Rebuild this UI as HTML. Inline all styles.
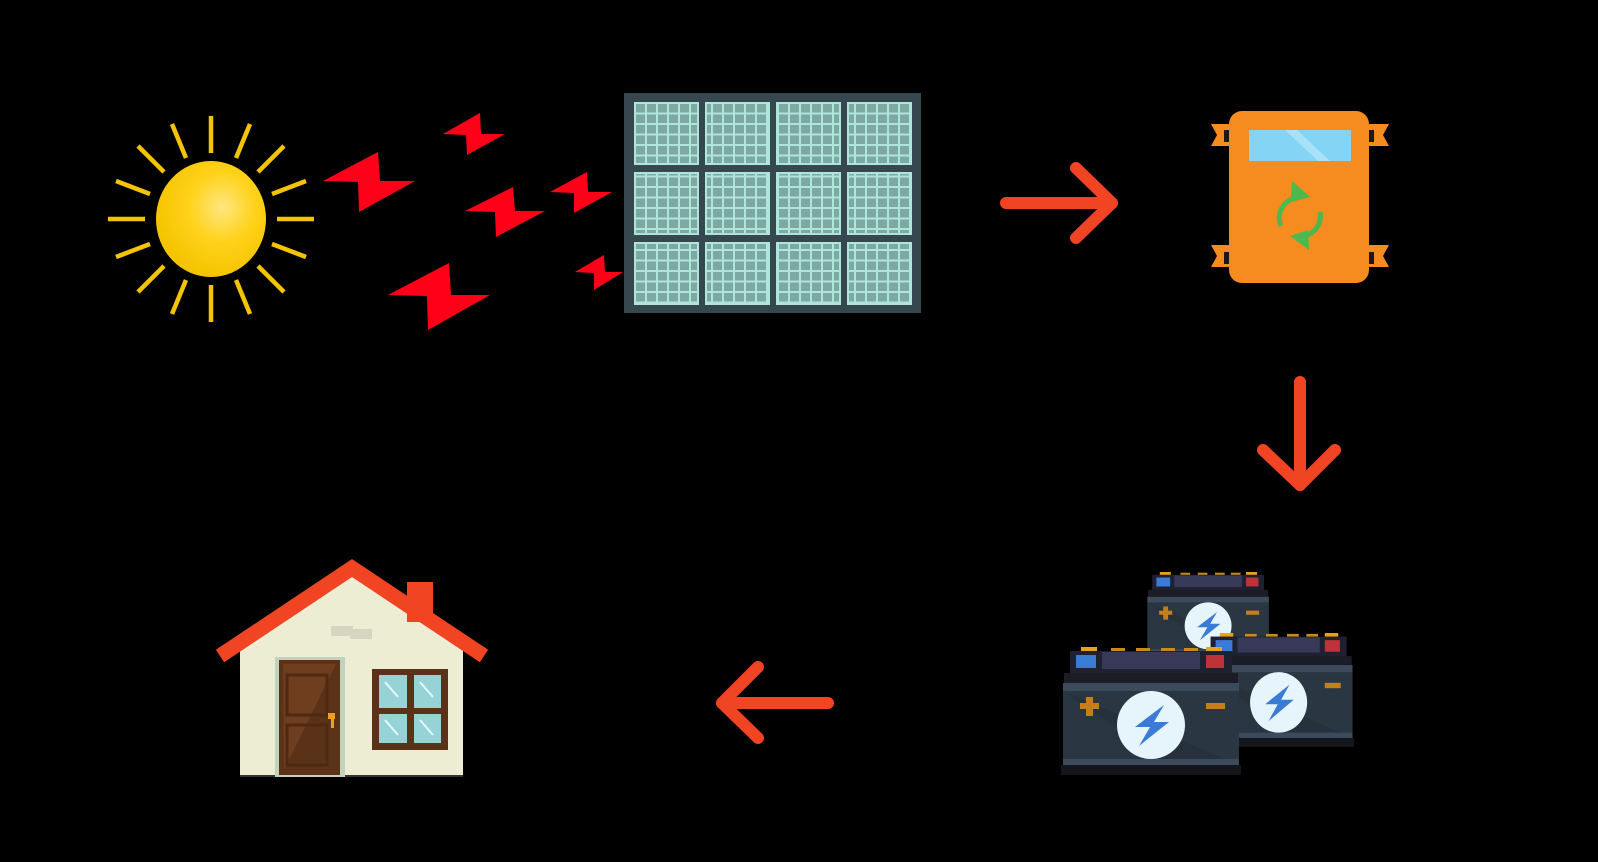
<!DOCTYPE html>
<html><head><meta charset="utf-8"><style>html,body{margin:0;padding:0;background:#000;width:1598px;height:862px;overflow:hidden}svg{display:block}</style></head>
<body>
<svg width="1598" height="862" viewBox="0 0 1598 862" xmlns="http://www.w3.org/2000/svg">
<defs>
<radialGradient id="sg" cx="0.6" cy="0.4" r="0.6"><stop offset="0" stop-color="#ffe680"/><stop offset="0.5" stop-color="#ffd21a"/><stop offset="1" stop-color="#f5c400"/></radialGradient>
<pattern id="cellp" x="634" y="102" width="11" height="10.5" patternUnits="userSpaceOnUse"><rect width="11" height="10.5" fill="#aee6dc"/><rect x="2" y="2" width="9" height="8.5" fill="#7ea8a2"/></pattern>
<g id="bat">
<rect x="20" y="0" width="16" height="5" fill="#e8a21a"/><rect x="50" y="1" width="14" height="4" fill="#c9891c"/><rect x="75" y="1" width="14" height="4" fill="#c9891c"/><rect x="100" y="1" width="14" height="4" fill="#c9891c"/><rect x="123" y="1" width="14" height="4" fill="#c9891c"/><rect x="145" y="0" width="16" height="5" fill="#e8a21a"/>
<rect x="9" y="4" width="162" height="24" fill="#1f2030"/>
<rect x="15" y="8" width="20" height="13" fill="#3a7bd5"/><rect x="145" y="8" width="18" height="13" fill="#c0323a"/>
<rect x="41" y="5" width="98" height="17" fill="#363a58"/>
<rect x="3" y="26" width="174" height="10" fill="#1b1c26"/>
<rect x="2" y="36" width="176" height="82" fill="#26313b"/>
<polygon points="2,44 178,118 178,44" fill="#2a3642"/>
<polygon points="2,44 2,112 100,112" fill="#2c3946" opacity="0.6"/>
<rect x="2" y="36" width="176" height="8" fill="#3b4b5c"/>
<rect x="2" y="112" width="176" height="6" fill="#3b4b5c"/>
<rect x="0" y="118" width="180" height="10" fill="#15151c"/>
<circle cx="90" cy="78" r="34" fill="#e6f5fc"/>
<polygon points="103,58 74,80 89,80 78,99 108,75 93,75" fill="#3a7bd5"/>
<rect x="19" y="56" width="19" height="6" fill="#c47f1c"/><rect x="25" y="50" width="7" height="19" fill="#c47f1c"/>
<rect x="145" y="56" width="19" height="6" fill="#c47f1c"/>
</g>
</defs>
<rect width="1598" height="862" fill="#000"/>

<g stroke="#f5c400" stroke-width="4.5" stroke-linecap="butt">
<line x1="211" y1="153" x2="211" y2="116"/><line x1="211" y1="285" x2="211" y2="322"/>
<line x1="145" y1="219" x2="108" y2="219"/><line x1="277" y1="219" x2="314" y2="219"/>
<line x1="186" y1="158" x2="172" y2="124"/><line x1="236" y1="158" x2="250" y2="124"/>
<line x1="186" y1="280" x2="172" y2="314"/><line x1="236" y1="280" x2="250" y2="314"/>
<line x1="164" y1="172" x2="138" y2="146"/><line x1="258" y1="172" x2="284" y2="146"/>
<line x1="164" y1="266" x2="138" y2="292"/><line x1="258" y1="266" x2="284" y2="292"/>
<line x1="150" y1="194" x2="116" y2="181"/><line x1="272" y1="194" x2="306" y2="181"/>
<line x1="150" y1="244" x2="116" y2="257"/><line x1="272" y1="244" x2="306" y2="257"/>
</g>
<ellipse cx="211" cy="219" rx="55" ry="58" fill="url(#sg)"/>

<g fill="#ff0018">
<polygon points="323,181 378,152 380,181 415,181 359,212 358,182"/>
<polygon points="443,134 480,113 481,134 505,134 467,155 466,135"/>
<polygon points="465,211 513,187 515,211 545,211 496,237 495,212"/>
<polygon points="550,192 587,172 588,192 612,192 574,213 574,193"/>
<polygon points="388,295 449,263 451,295 490,295 428,330 427,296"/>
<polygon points="575,272 604,255 605,272 623,272 594,290 594,273"/>
</g>

<rect x="624" y="93" width="297" height="220" fill="#37474f"/>
<g fill="url(#cellp)">
<rect x="634" y="102" width="65" height="63"/><rect x="705" y="102" width="65" height="63"/><rect x="776" y="102" width="65" height="63"/><rect x="847" y="102" width="65" height="63"/>
<rect x="634" y="172" width="65" height="63"/><rect x="705" y="172" width="65" height="63"/><rect x="776" y="172" width="65" height="63"/><rect x="847" y="172" width="65" height="63"/>
<rect x="634" y="242" width="65" height="63"/><rect x="705" y="242" width="65" height="63"/><rect x="776" y="242" width="65" height="63"/><rect x="847" y="242" width="65" height="63"/>
</g>
<g fill="none" stroke="#aee6dc" stroke-width="2">
<rect x="635" y="103" width="63" height="61"/><rect x="706" y="103" width="63" height="61"/><rect x="777" y="103" width="63" height="61"/><rect x="848" y="103" width="63" height="61"/>
<rect x="635" y="173" width="63" height="61"/><rect x="706" y="173" width="63" height="61"/><rect x="777" y="173" width="63" height="61"/><rect x="848" y="173" width="63" height="61"/>
<rect x="635" y="243" width="63" height="61"/><rect x="706" y="243" width="63" height="61"/><rect x="777" y="243" width="63" height="61"/><rect x="848" y="243" width="63" height="61"/>
</g>

<g stroke="#f04423" stroke-width="12" stroke-linecap="round" stroke-linejoin="round" fill="none">
<line x1="1006" y1="203" x2="1112" y2="203"/><polyline points="1076,168 1112,203 1076,238"/>
<line x1="1300" y1="382" x2="1300" y2="485"/><polyline points="1263,450 1300,485 1335,450"/>
<line x1="828" y1="703" x2="722" y2="703"/><polyline points="758,667 722,703 758,738"/>
</g>

<g fill="#f68b1f">
<path d="M1211,124 h20 v22 h-20 l6,-11 z"/><path d="M1211,245 h20 v22 h-20 l6,-11 z"/>
<path d="M1389,124 h-20 v22 h20 l-6,-11 z"/><path d="M1389,245 h-20 v22 h20 l-6,-11 z"/>
<rect x="1229" y="111" width="140" height="172" rx="13"/>
</g>
<rect x="1224" y="130" width="5" height="12" fill="#1a1a1a"/><rect x="1224" y="252" width="5" height="12" fill="#1a1a1a"/>
<rect x="1369" y="130" width="5" height="12" fill="#1a1a1a"/><rect x="1369" y="252" width="5" height="12" fill="#1a1a1a"/>
<rect x="1249" y="130" width="102" height="31" fill="#83d4f5"/>
<polygon points="1285,130 1297,130 1330,161 1318,161" fill="#a8e2f8"/>
<g fill="none" stroke="#4cb84e" stroke-width="5">
<path d="M1297,198 A20,20 0 0 0 1281,226"/>
<path d="M1320,212 A20,20 0 0 1 1303,236"/>
</g>
<polygon points="1292,181 1310,197 1291,202" fill="#4cb84e"/>
<polygon points="1309,250 1290,236 1308,230" fill="#4cb84e"/>

<use href="#bat" transform="translate(1146,572) scale(0.69,0.69)"/>
<use href="#bat" transform="translate(1203,633) scale(0.84,0.89)"/>
<use href="#bat" transform="translate(1061,647)"/>

<polygon points="352,572 463,640 463,775 240,775 240,640" fill="#ecedd3"/>
<rect x="240" y="775" width="223" height="2" fill="#333"/>
<rect x="331" y="626" width="22" height="10" fill="#d6d6c0"/><rect x="350" y="629" width="22" height="10" fill="#d6d6c0"/>
<rect x="407" y="582" width="26" height="40" fill="#f04423"/>
<polyline points="220,656 352,568 484,656" fill="none" stroke="#f04423" stroke-width="15" stroke-linejoin="miter"/>
<rect x="275" y="657" width="70" height="120" fill="#c0d3bc"/>
<rect x="279" y="660" width="61" height="115" fill="#5a3218"/>
<polygon points="283,664 336,664 284,770" fill="#6e3e1e"/>
<rect x="287" y="675" width="40" height="40" fill="none" stroke="#4f2a13" stroke-width="3"/>
<rect x="287" y="725" width="40" height="40" fill="none" stroke="#4f2a13" stroke-width="3"/>
<rect x="328" y="713" width="7" height="6" fill="#f0a020"/><rect x="331" y="716" width="3" height="12" fill="#f0a020"/>
<rect x="372" y="669" width="76" height="81" fill="#5a3218"/>
<rect x="379" y="675" width="28" height="33" fill="#96d3d6"/><rect x="414" y="675" width="27" height="33" fill="#96d3d6"/>
<rect x="379" y="714" width="28" height="29" fill="#96d3d6"/><rect x="414" y="714" width="27" height="29" fill="#96d3d6"/>
<g stroke="#e6f8f8" stroke-width="2"><line x1="385" y1="682" x2="398" y2="697"/><line x1="420" y1="682" x2="433" y2="697"/><line x1="385" y1="720" x2="398" y2="735"/><line x1="420" y1="720" x2="433" y2="735"/></g>
</svg>
</body></html>
